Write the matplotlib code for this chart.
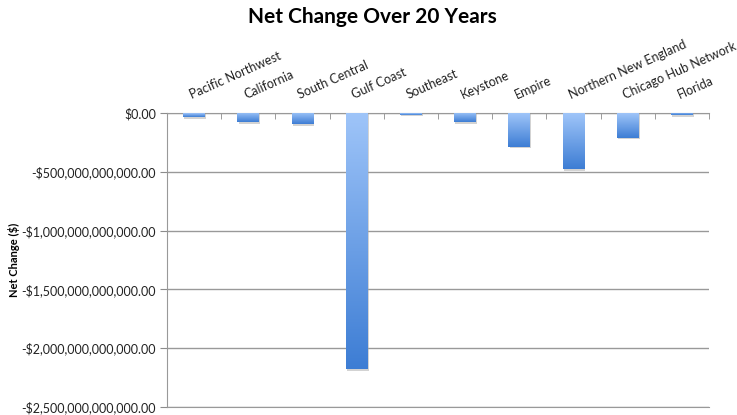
import numpy as np
import matplotlib.pyplot as plt
from matplotlib.colors import LinearSegmentedColormap
from matplotlib.ticker import FuncFormatter

plt.rcParams['font.family'] = ['Lato', 'DejaVu Sans']

# regional net change over 20 years, in dollars
regions = ['Pacific Northwest', 'California', 'South Central', 'Gulf Coast', 'Southeast',
           'Keystone', 'Empire', 'Northern New England', 'Chicago Hub Network', 'Florida']
net_change = [-34e9, -77e9, -94e9, -2180e9, -15e9,
              -77e9, -286e9, -476e9, -210e9, -21e9]
yticks = [0, -500e9, -1000e9, -1500e9, -2000e9, -2500e9]

fig = plt.figure(figsize=(7.37, 4.15), dpi=100)
ax = fig.add_axes([0.2266, 0.0193, 0.7354, 0.7084])

x = np.arange(len(regions))
width = 0.4
grad_cmap = LinearSegmentedColormap.from_list('barblue', ['#9fc5f9', '#3d7dd4'])
gradient = np.linspace(0, 1, 256).reshape(-1, 1)

# soft drop shadow just below each bar, then gradient-filled bars
shadow = [v - 14e9 for v in net_change]
ax.bar(x + 0.02, shadow, width, color='#a8a8a8', alpha=0.5, zorder=2, linewidth=0)
bars = ax.bar(x, net_change, width, color='none', zorder=3, linewidth=0)
for b in bars:
    x0 = b.get_x()
    h = b.get_height()
    im = ax.imshow(gradient, extent=[x0, x0 + b.get_width(), h, 0], aspect='auto',
                   cmap=grad_cmap, origin='upper', zorder=3)
    im.set_clip_path(b)

ax.set_xlim(-0.5, len(regions) - 0.5)
ax.set_ylim(-2500e9, 0)

ax.set_yticks(yticks)
ax.yaxis.set_major_formatter(FuncFormatter(
    lambda v, p: ('-' if v < 0 else '') + '${:,.2f}'.format(abs(v))))
ax.tick_params(axis='y', direction='out', length=5, color='#8c8c8c',
               labelsize=9, labelcolor='#222222', pad=3)
ax.grid(axis='y', color='#999999', linewidth=1, zorder=0)
ax.set_axisbelow(True)

# x axis sits at zero along the top, with boundary tick marks pointing down
ax.xaxis.tick_top()
ax.set_xticks([])
ax.set_xticks(np.arange(-0.5, len(regions)), minor=True)
ax.tick_params(axis='x', which='minor', direction='in', length=4, color='#8c8c8c',
               top=True, bottom=False)
ax.spines['right'].set_visible(False)
for side in ['top', 'left', 'bottom']:
    ax.spines[side].set_color('#999999')

for i, name in enumerate(regions):
    ax.annotate(name, xy=(i, 0), xytext=(-1, 9), textcoords='offset points',
                rotation=24, rotation_mode='anchor', ha='left', va='bottom',
                fontsize=9, color='#222222', annotation_clip=False)

ax.set_ylabel('Net Change ($)', fontsize=8, fontweight='bold', labelpad=1)
fig.text(0.505, 0.958, 'Net Change Over 20 Years', ha='center', va='center',
         fontsize=15, fontweight='bold')

fig.savefig('out.png', dpi=100)
